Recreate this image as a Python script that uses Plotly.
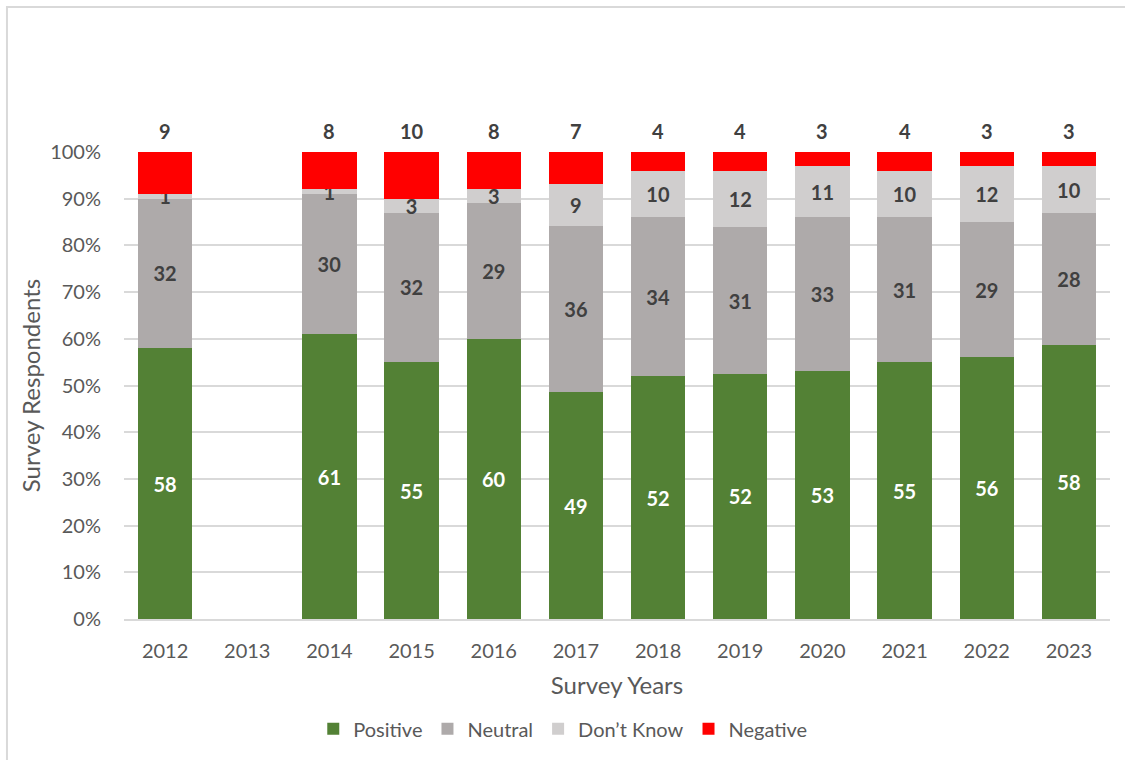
import plotly.graph_objects as go

# Survey results by year (2013 has no survey)
years = ["2012", "2013", "2014", "2015", "2016", "2017", "2018", "2019", "2020", "2021", "2022", "2023"]
positive = [58, None, 61, 55, 60, 49, 52, 52, 53, 55, 56, 58]
neutral = [32, None, 30, 32, 29, 36, 34, 31, 33, 31, 29, 28]
dont_know = [1, None, 1, 3, 3, 9, 10, 12, 11, 10, 12, 10]
negative = [9, None, 8, 10, 8, 7, 4, 4, 3, 4, 3, 3]

FONT = "Lato"
LABEL_DARK = "#404040"
AXIS_GREY = "#595959"
LABEL_SIZE = 20

series = [
    ("Positive", positive, "#538135", "white"),
    ("Neutral", neutral, "#AEAAAA", LABEL_DARK),
    ("Don\u2019t Know", dont_know, "#D0CECE", LABEL_DARK),
    ("Negative", negative, "#FF0000", LABEL_DARK),
]

fig = go.Figure()
for name, vals, color, txtcolor in series:
    inside = name != "Negative"
    fig.add_trace(go.Bar(
        name=name,
        x=years,
        y=vals,
        marker=dict(color=color, line=dict(width=0)),
        text=[("" if v is None else str(v)) for v in vals] if inside else None,
        textposition="inside" if inside else "none",
        insidetextanchor="middle",
        textangle=0,
        constraintext="none",
        textfont=dict(family=FONT, size=LABEL_SIZE, color=txtcolor, weight="bold"),
        hoverinfo="skip",
    ))

# Negative labels sit just above each stacked bar (stack normalised to 100).
# On a category axis the annotation x is the category's index.
for i, yr in enumerate(years):
    vals = [s[1][i] for s in series]
    if vals[0] is None:
        continue
    top = 100.0 * sum(vals) / sum(vals)
    fig.add_annotation(
        x=i, y=top, text=str(negative[i]), showarrow=False,
        yanchor="bottom", yshift=7,
        font=dict(family=FONT, size=LABEL_SIZE, color=LABEL_DARK, weight="bold"),
    )

# Outer chart border (right and bottom edges run past the canvas)
fig.add_shape(type="rect", xref="paper", yref="paper",
              x0=-0.1187, x1=1.03, y0=-0.33, y1=1.3105,
              line=dict(color="#D9D9D9", width=2), fillcolor="rgba(0,0,0,0)",
              layer="below")

fig.update_layout(
    width=1125, height=760,
    barmode="stack", barnorm="percent", bargap=0.34,
    margin=dict(l=124, r=15, t=152, b=141),
    paper_bgcolor="white", plot_bgcolor="white",
    font=dict(family=FONT, color=AXIS_GREY),
    showlegend=True,
    legend=dict(orientation="h", x=0.445, xanchor="center", y=-0.235, yanchor="middle",
                font=dict(family=FONT, size=20, color=AXIS_GREY),
                itemsizing="constant", traceorder="normal", itemwidth=30,
                entrywidthmode="pixels"),
    xaxis=dict(type="category", categoryorder="array", categoryarray=years,
               range=[-0.5, len(years) - 0.5],
               tickfont=dict(family=FONT, size=20, color=AXIS_GREY),
               showgrid=False, showline=True, linecolor="#D9D9D9", linewidth=1.5,
               ticks="", ticklabelstandoff=13,
               title=dict(text="Survey Years", standoff=16,
                          font=dict(family=FONT, size=24, color=AXIS_GREY))),
    yaxis=dict(range=[0, 100], dtick=10, ticksuffix="%",
               tickfont=dict(family=FONT, size=20, color=AXIS_GREY),
               showgrid=True, gridcolor="#D9D9D9", gridwidth=1.5,
               zeroline=False, showline=False, ticks="", ticklabelstandoff=22,
               title=dict(text="Survey Respondents", standoff=2,
                          font=dict(family=FONT, size=24, color=AXIS_GREY))),
)

fig.write_html("out.html")
